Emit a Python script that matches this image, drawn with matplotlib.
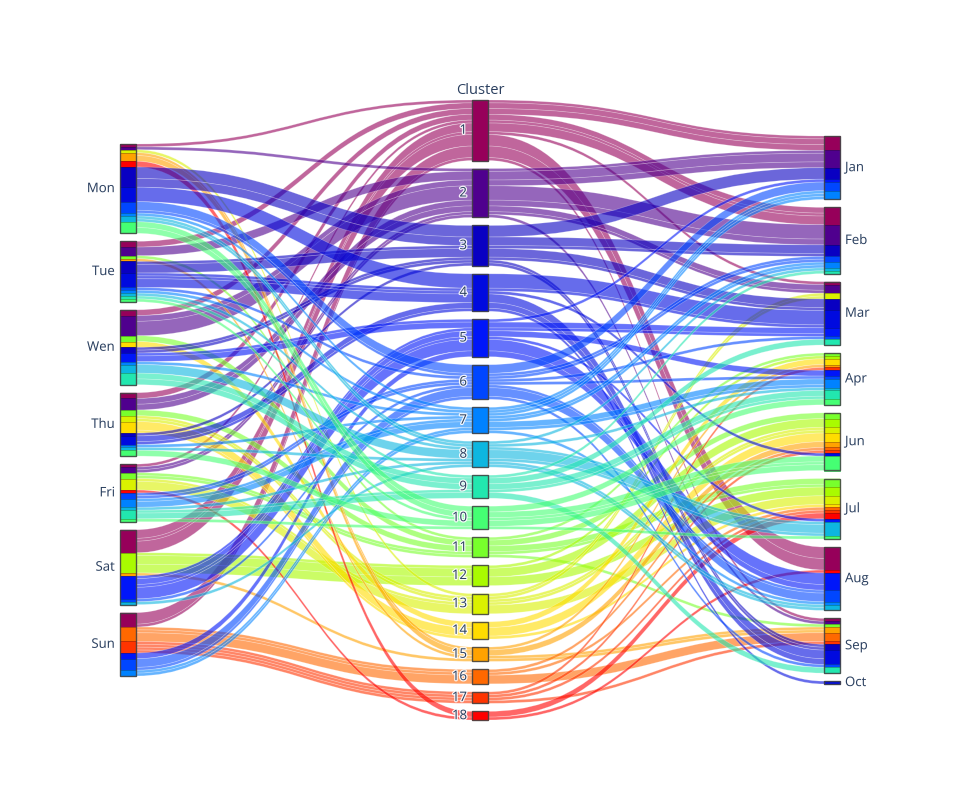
import numpy as np
import matplotlib
matplotlib.use("Agg")
import matplotlib.pyplot as plt
from matplotlib.path import Path
from matplotlib.patches import PathPatch, Rectangle
import matplotlib.patheffects as pe

# ---------------- data (record counts) ----------------
days = ["Mon", "Tue", "Wen", "Thu", "Fri", "Sat", "Sun"]
clusters = list(range(1, 19))
months = ["Jan", "Feb", "Mar", "Apr", "Jun", "Jul", "Aug", "Sep", "Oct"]

# number of records per cluster 1..18 for each day
mon_counts = [1, 1, 7, 5, 0, 4, 1, 2, 0, 4, 0, 0, 1, 0, 3, 0, 0, 2]
tue_counts = [2, 3, 4, 5, 0, 1, 1, 1, 1, 1, 1, 0, 0, 0, 1, 0, 0, 0]
wen_counts = [2, 7, 2, 0, 3, 0, 1, 3, 4, 0, 2, 0, 0, 2, 0, 0, 0, 0]
thu_counts = [2, 4, 1, 3, 0, 0, 1, 1, 0, 2, 2, 0, 2, 4, 0, 0, 0, 0]
fri_counts = [1, 2, 0, 0, 0, 2, 3, 1, 3, 1, 2, 0, 4, 0, 0, 0, 0, 1]
sat_counts = [8, 0, 0, 0, 8, 1, 0, 1, 0, 0, 0, 7, 0, 0, 1, 0, 0, 0]
sun_counts = [5, 0, 0, 0, 2, 4, 2, 0, 0, 0, 0, 0, 0, 0, 0, 5, 4, 0]

# number of records per cluster 1..18 for each month
jan_counts = [5, 6, 4, 0, 1, 3, 3, 0, 0, 0, 0, 0, 0, 0, 0, 0, 0, 0]
feb_counts = [6, 7, 4, 0, 0, 2, 2, 1, 1, 0, 0, 0, 0, 0, 0, 0, 0, 0]
mar_counts = [1, 3, 4, 6, 3, 1, 0, 0, 2, 0, 0, 0, 2, 0, 0, 0, 0, 0]
apr_counts = [0, 0, 0, 0, 2, 1, 3, 1, 3, 2, 1, 1, 0, 2, 1, 0, 1, 0]
jun_counts = [0, 0, 0, 1, 0, 0, 0, 0, 0, 5, 2, 3, 2, 3, 2, 1, 1, 0]
jul_counts = [0, 0, 0, 0, 1, 0, 0, 5, 0, 1, 3, 3, 3, 1, 0, 1, 1, 2]
aug_counts = [8, 0, 0, 0, 6, 4, 1, 2, 0, 0, 0, 0, 0, 0, 0, 0, 0, 1]
sep_counts = [1, 1, 2, 5, 0, 1, 0, 0, 2, 0, 1, 0, 0, 0, 2, 3, 1, 0]
oct_counts = [0, 0, 0, 1, 0, 0, 0, 0, 0, 0, 0, 0, 0, 0, 0, 0, 0, 0]

day_table = [mon_counts, tue_counts, wen_counts, thu_counts, fri_counts, sat_counts, sun_counts]
month_table = [jan_counts, feb_counts, mar_counts, apr_counts, jun_counts,
               jul_counts, aug_counts, sep_counts, oct_counts]

# ---------------- build records (pair days and months within each cluster) ----
records = []  # (day_idx, cluster_idx, month_idx)
for ci in range(len(clusters)):
    dlist = [di for di in range(len(days)) for _ in range(day_table[di][ci])]
    mlist = [mi for mi in range(len(months)) for _ in range(month_table[mi][ci])]
    for di, mi in zip(dlist, mlist):
        records.append((di, ci, mi))
N = len(records)

# unique paths with counts
path_counts = {}
for r in records:
    path_counts[r] = path_counts.get(r, 0) + 1

# ---------------- colours: plotly "Rainbow" colorscale ----------------
rb_pos = [0, 0.125, 0.25, 0.375, 0.5, 0.625, 0.75, 0.875, 1.0]
rb_rgb = [(150, 0, 90), (0, 0, 200), (0, 25, 255), (0, 152, 255), (44, 255, 150),
          (151, 255, 0), (255, 234, 0), (255, 111, 0), (255, 0, 0)]


def cl_color(c):
    t = (c - 1) / 17.0
    r = np.interp(t, rb_pos, [p[0] for p in rb_rgb]) / 255
    g = np.interp(t, rb_pos, [p[1] for p in rb_rgb]) / 255
    b = np.interp(t, rb_pos, [p[2] for p in rb_rgb]) / 255
    return (r, g, b)


# ---------------- layout (plotly parcats geometry, pixel units) --------------
W, H = 960, 800
left, top = 120, 100
plot_w, plot_h = 720, 620
dim_w = 16
cat_spacing = 8
dims = [days, [str(c) for c in clusters], months]
max_cats = max(len(d) for d in dims)
total_h = plot_h - cat_spacing * (max_cats - 1)
dim_x = [left + d * (plot_w - dim_w) / (len(dims) - 1) for d in range(len(dims))]

cat_y = []
cat_h = []
for d, cats in enumerate(dims):
    counts = [0] * len(cats)
    for r in records:
        counts[r[d]] += 1
    y = top + (max_cats - len(cats)) * cat_spacing / 2.0
    ys, hs = [], []
    for k in range(len(cats)):
        h = counts[k] / N * total_h
        ys.append(y)
        hs.append(h)
        y += h + cat_spacing
    cat_y.append(ys)
    cat_h.append(hs)


# plotly sorts with JS array comparison (string comparison)
def sort_key(p):
    di, ci, mi = p
    arr = [ci, di, ci, mi]
    return ",".join(str(v) for v in arr)


paths = sorted(path_counts.keys(), key=sort_key)
next_y = [list(ys) for ys in cat_y]
path_geo = []
bands = [[[] for _ in cats] for cats in dims]
for p in paths:
    h = path_counts[p] / N * total_h
    ys = []
    for d in range(len(dims)):
        k = p[d]
        ys.append(next_y[d][k])
        bands[d][k].append((next_y[d][k], h, p[1] + 1))
        next_y[d][k] += h
    path_geo.append((ys, h, p[1] + 1))

# ---------------- drawing ----------------
plt.rcParams['font.family'] = ['Open Sans', 'DejaVu Sans']
fig = plt.figure(figsize=(W / 100, H / 100), dpi=100)
ax = fig.add_axes([0, 0, 1, 1])
ax.set_xlim(0, W)
ax.set_ylim(H, 0)
ax.axis('off')

for ys, h, c in path_geo:
    verts = [(dim_x[0], ys[0]), (dim_x[0] + dim_w, ys[0])]
    codes = [Path.MOVETO, Path.LINETO]
    for d in range(1, len(dims)):
        m = (dim_x[d - 1] + dim_w + dim_x[d]) / 2.0
        verts += [(m, ys[d - 1]), (m, ys[d]), (dim_x[d], ys[d]), (dim_x[d] + dim_w, ys[d])]
        codes += [Path.CURVE4, Path.CURVE4, Path.CURVE4, Path.LINETO]
    verts += [(dim_x[-1] + dim_w, ys[-1] + h), (dim_x[-1], ys[-1] + h)]
    codes += [Path.LINETO, Path.LINETO]
    for d in range(len(dims) - 2, -1, -1):
        m = (dim_x[d] + dim_w + dim_x[d + 1]) / 2.0
        verts += [(m, ys[d + 1] + h), (m, ys[d] + h), (dim_x[d] + dim_w, ys[d] + h),
                  (dim_x[d], ys[d] + h)]
        codes += [Path.CURVE4, Path.CURVE4, Path.CURVE4, Path.LINETO]
    verts.append(verts[0])
    codes.append(Path.CLOSEPOLY)
    ax.add_patch(PathPatch(Path(verts, codes), facecolor=cl_color(c) + (0.6,),
                           edgecolor=(1, 1, 1, 0.3), linewidth=0.5, zorder=2))

# category bands and outlines
for d in range(len(dims)):
    for k in range(len(dims[d])):
        merged = []
        for y, h, c in bands[d][k]:
            if merged and merged[-1][2] == c:
                merged[-1][1] += h
            else:
                merged.append([y, h, c])
        for y, h, c in merged:
            col = cl_color(c)
            ax.add_patch(Rectangle((dim_x[d], y), dim_w, h, facecolor=col,
                                   edgecolor=tuple(v * 0.7 for v in col), linewidth=0.5,
                                   zorder=3))
        ax.add_patch(Rectangle((dim_x[d], cat_y[d][k]), dim_w, cat_h[d][k],
                               facecolor='none', edgecolor=(0.27, 0.27, 0.27, 0.85),
                               linewidth=1.0, zorder=4))

label_color = '#2a3f5f'
halo = [pe.withStroke(linewidth=1.8, foreground=(1, 1, 1, 0.9))]
fs = 9.5
for d in range(len(dims)):
    for k, name in enumerate(dims[d]):
        yc = cat_y[d][k] + cat_h[d][k] / 2.0
        if d == len(dims) - 1:
            ax.text(dim_x[d] + dim_w + 5, yc, name, ha='left', va='center', fontsize=fs,
                    color=label_color, zorder=5, path_effects=halo)
        else:
            ax.text(dim_x[d] - 5, yc, name, ha='right', va='center', fontsize=fs,
                    color=label_color, zorder=5, path_effects=halo)

ax.text(dim_x[1] + dim_w / 2.0, top - 10, "Cluster", ha='center', va='center',
        fontsize=10.5, color=label_color, zorder=5)

fig.savefig("out.png", dpi=100)
